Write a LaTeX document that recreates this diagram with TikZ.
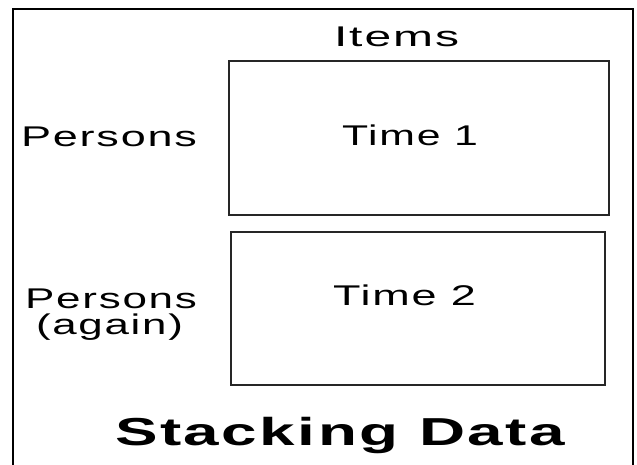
\documentclass[tikz,border=0pt]{standalone}
\usepackage{fontspec}
\usepackage{graphicx}
\setmainfont{Liberation Sans}
\newfontfamily\lsf[LetterSpace=4]{Liberation Sans}
\newsavebox\tbox
\newdimen\tlen
\newcommand\fitw[2]{\sbox\tbox{#2}\tlen=\wd\tbox\scalebox{\fpeval{#1/\tlen}}[1]{\usebox\tbox}}
\tikzset{
  frame/.style={draw=black, line width=2.4pt, inner sep=0pt, outer sep=0pt},
  panel/.style={draw=black!85, line width=1.4pt, inner sep=0pt, outer sep=0pt},
  lbl/.style={anchor=base west, inner sep=0pt, outer sep=0pt, font=\lsf\fontsize{28.5}{30}\selectfont},
  title/.style={anchor=base west, inner sep=0pt, outer sep=0pt, font=\lsf\bfseries\fontsize{39}{40}\selectfont}
}
\begin{document}
\begin{tikzpicture}[x=1pt,y=1pt]
\useasboundingbox (0,0) rectangle (637,464);
\begin{scope}
\clip (0,0) rectangle (637,464);
\node[frame, minimum width=620pt, minimum height=470pt] (outer) at (323,220) {};
\end{scope}
\node[panel, minimum width=380pt, minimum height=154pt] (t1) at (419,326) {};
\node[panel, minimum width=374pt, minimum height=153pt] (t2) at (418,155.5) {};
\node[lbl] (items) at (334,417) {\fitw{125}{Items}};
\node[lbl] (p1) at (21,317) {\fitw{176}{Persons}};
\node[lbl] (time1) at (342,318) {\fitw{136}{Time 1}};
\node[lbl] (p2) at (25,156) {\fitw{172}{Persons}};
\node[lbl] (again) at (36,130) {\fitw{147}{(again)}};
\node[lbl] (time2) at (333,159) {\fitw{143}{Time 2}};
\node[title] (st) at (115,19) {\fitw{450}{Stacking Data}};
\end{tikzpicture}
\end{document}
